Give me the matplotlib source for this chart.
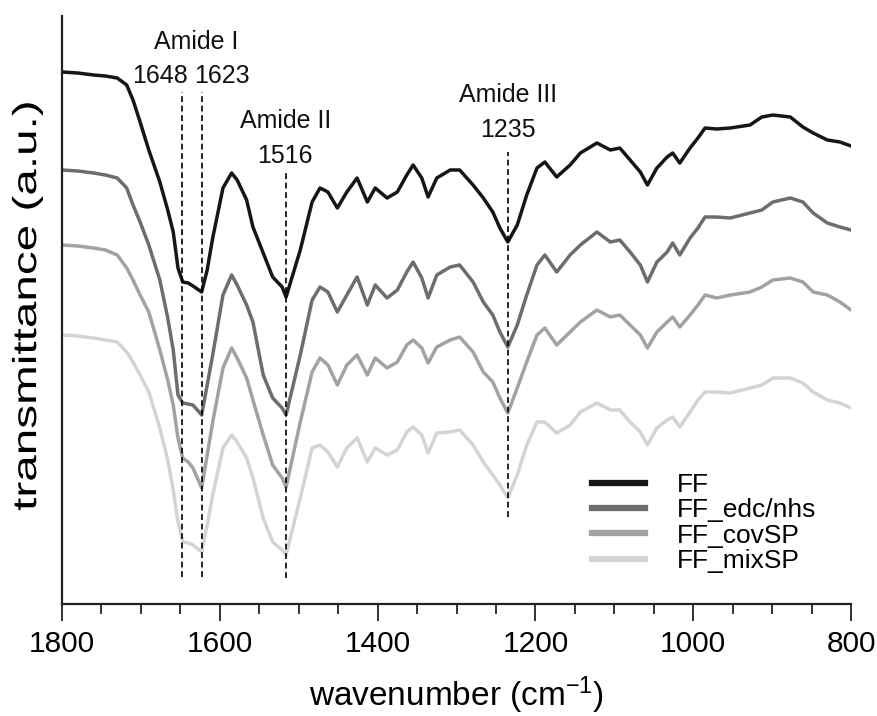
import matplotlib
matplotlib.use("Agg")
import matplotlib.pyplot as plt
from matplotlib.lines import Line2D
from matplotlib.patheffects import AbstractPathEffect
from matplotlib.transforms import Affine2D
from matplotlib.ticker import MultipleLocator

plt.rcParams['font.family'] = ['Liberation Sans', 'DejaVu Sans']
plt.rcParams['mathtext.default'] = 'regular'

# FTIR spectra (offset transmittance, arbitrary units) on a shared wavenumber grid
WAVENUMBER = [1800, 1780, 1760, 1745, 1730, 1718, 1710, 1701, 1690, 1676,
              1666, 1659, 1653, 1647, 1640, 1634, 1623, 1616, 1609, 1596,
              1585, 1578, 1566, 1558, 1545, 1533, 1521, 1516, 1498, 1483,
              1473, 1463, 1451, 1439, 1426, 1413, 1403, 1388, 1375, 1363,
              1355, 1344, 1336, 1325, 1308, 1296, 1279, 1266, 1254, 1245,
              1235, 1223, 1211, 1198, 1188, 1173, 1156, 1143, 1122, 1105,
              1093, 1080, 1067, 1058, 1046, 1033, 1026, 1017, 1004, 994,
              985, 970, 953, 928, 913, 899, 877, 861, 848, 830,
              814, 800]

FF = [532, 531, 529, 528, 526, 519, 504, 482, 454, 422,
      394, 372, 336, 322, 321, 318, 312, 334, 366, 416,
      431, 424, 404, 377, 351, 327, 317, 307, 354, 402,
      416, 412, 396, 412, 426, 402, 416, 406, 412, 429,
      439, 426, 407, 426, 434, 434, 419, 406, 392, 376,
      362, 379, 409, 436, 442, 427, 439, 451, 461, 454,
      456, 444, 432, 419, 436, 447, 451, 441, 456, 466,
      476, 475, 476, 479, 487, 489, 487, 477, 471, 464,
      462, 458]

FF_EDC_NHS = [434, 433, 431, 429, 426, 416, 399, 382, 359, 324,
              286, 254, 209, 201, 200, 199, 189, 219, 249, 309,
              329, 319, 299, 282, 229, 206, 196, 189, 249, 304,
              317, 312, 292, 309, 327, 299, 319, 306, 314, 332,
              342, 326, 306, 329, 337, 339, 322, 302, 289, 272,
              257, 279, 309, 339, 349, 332, 349, 359, 372, 362,
              364, 352, 339, 322, 342, 352, 361, 349, 366, 376,
              387, 387, 386, 391, 394, 402, 406, 402, 391, 381,
              377, 374]

FF_COV_SP = [359, 358, 356, 354, 349, 336, 324, 309, 292, 254,
             224, 199, 166, 146, 142, 136, 116, 149, 182, 236,
             256, 246, 226, 204, 169, 139, 126, 117, 182, 232,
             246, 239, 219, 239, 249, 229, 246, 236, 242, 259,
             264, 256, 241, 257, 264, 267, 252, 232, 222, 206,
             191, 216, 242, 269, 276, 259, 272, 282, 294, 287,
             289, 279, 269, 256, 272, 282, 287, 277, 289, 299,
             309, 306, 309, 312, 317, 324, 326, 322, 312, 309,
             302, 294]

FF_MIX_SP = [269, 268, 266, 264, 262, 252, 242, 229, 212, 176,
             144, 114, 82, 62, 61, 59, 52, 79, 109, 156,
             169, 162, 146, 126, 86, 62, 54, 49, 106, 156,
             159, 152, 137, 156, 166, 142, 156, 149, 154, 172,
             177, 169, 151, 171, 172, 174, 159, 142, 129, 119,
             106, 129, 159, 182, 182, 171, 179, 192, 201, 194,
             194, 182, 172, 159, 176, 184, 187, 177, 192, 204,
             212, 212, 211, 216, 219, 226, 226, 221, 212, 204,
             201, 196]

SERIES_LABELS = ["FF", "FF_edc/nhs", "FF_covSP", "FF_mixSP"]
SERIES_COLORS = ["#161616", "#6d6d6d", "#a2a2a2", "#d4d4d4"]

# Band markers: wavenumber and the vertical extent of each dashed guide
PEAK_POSITIONS = [1648, 1623, 1516, 1235]
PEAK_LINE_TOP = [512, 512, 432, 452]
PEAK_LINE_BOTTOM = [27, 27, 26, 87]


class StretchY(AbstractPathEffect):
    """Scale a drawn text path vertically about its own centre."""

    def __init__(self, factor):
        super().__init__()
        self._factor = factor

    def draw_path(self, renderer, gc, tpath, affine, rgbFace=None):
        ext = tpath.get_extents(affine)
        cx = 0.5 * (ext.x0 + ext.x1)
        cy = 0.5 * (ext.y0 + ext.y1)
        stretched = affine + Affine2D().translate(-cx, -cy).scale(1.0, self._factor).translate(cx, cy)
        renderer.draw_path(gc, tpath, stretched, rgbFace)


fig = plt.figure(figsize=(8.78, 7.16), dpi=100)
ax = fig.add_axes([62 / 878, 1 - 604 / 716, 789 / 878, 588 / 716])

series = [FF, FF_EDC_NHS, FF_COV_SP, FF_MIX_SP]
for values, label, color in zip(series, SERIES_LABELS, SERIES_COLORS):
    ax.plot(WAVENUMBER, values, color=color, lw=2.5, label=label,
            solid_joinstyle='round', solid_capstyle='round', zorder=2)

for pos, top, bottom in zip(PEAK_POSITIONS, PEAK_LINE_TOP, PEAK_LINE_BOTTOM):
    ax.plot([pos, pos], [bottom, top], color='black', lw=1.2,
            linestyle=(0, (3.5, 2.2)), zorder=3)

txt_kw = dict(ha='center', va='baseline', fontsize=18, color='#111111')
ax.text(1630, 555, "Amide I", **txt_kw)
ax.text(1676, 521, "1648", **txt_kw)
ax.text(1597, 521, "1623", **txt_kw)
ax.text(1517, 476, "Amide II", **txt_kw)
ax.text(1517, 441, "1516", **txt_kw)
ax.text(1235, 502, "Amide III", **txt_kw)
ax.text(1235, 467, "1235", **txt_kw)

ax.set_xlim(1800, 800)
ax.set_ylim(0, 588)

for side in ('top', 'right'):
    ax.spines[side].set_visible(False)
for side in ('left', 'bottom'):
    ax.spines[side].set_linewidth(1.6)
    ax.spines[side].set_color('#222222')

ax.set_yticks([])
ax.xaxis.set_major_locator(MultipleLocator(200))
ax.xaxis.set_minor_locator(MultipleLocator(50))
ax.tick_params(axis='x', which='major', direction='out', length=12, width=1.3,
               color='#222222', labelsize=21.5, pad=7)
ax.tick_params(axis='x', which='minor', direction='out', length=7, width=1.3,
               color='#222222')

ax.set_xlabel("wavenumber (cm$^{-1}$)", fontsize=24)
ax.xaxis.set_label_coords(0.5, -0.12)
ylab = ax.set_ylabel("transmittance (a.u.)", fontsize=24)
ax.yaxis.set_label_coords(-0.024, 0.507)
ylab.set_path_effects([StretchY(1.43)])

handles = [Line2D([], [], color=c, lw=4.5) for c in SERIES_COLORS]
ax.legend(handles, SERIES_LABELS, loc='upper left',
          bbox_to_anchor=(592 / 878, 1 - 473 / 716), bbox_transform=fig.transFigure,
          frameon=False, borderpad=0, borderaxespad=0, fontsize=19,
          handlelength=2.0, handletextpad=1.2, labelspacing=0.05)

fig.savefig("out.png", dpi=100)
